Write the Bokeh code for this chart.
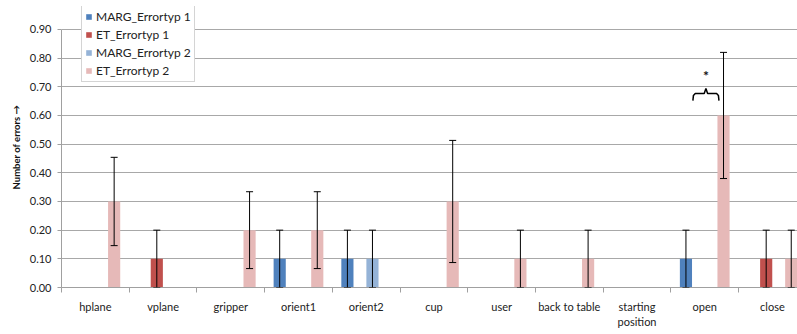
from bokeh.plotting import figure
from bokeh.models import (Range1d, FixedTicker, ColumnDataSource, Whisker, TeeHead,
                          Label, Legend, LegendItem, NumeralTickFormatter)
from bokeh.embed import file_html
from bokeh.resources import INLINE

# Mean number of errors per button, by interface and error type
categories = ["hplane", "vplane", "gripper", "orient1", "orient2", "cup", "user",
              "back to table", "starting position", "open", "close"]
marg_err1 = [0, 0, 0, 0.10, 0.10, 0, 0, 0, 0, 0.10, 0]
et_err1 = [0, 0.10, 0, 0, 0, 0, 0, 0, 0, 0, 0.10]
marg_err2 = [0, 0, 0, 0, 0.10, 0, 0, 0, 0, 0, 0]
et_err2 = [0.30, 0, 0.20, 0.20, 0, 0.30, 0.10, 0.10, 0, 0.60, 0.10]

# Standard deviations (error bars)
marg_sd1 = [0, 0, 0, 0.10, 0.10, 0, 0, 0, 0, 0.10, 0]
et_sd1 = [0, 0.10, 0, 0, 0, 0, 0, 0, 0, 0, 0.10]
marg_sd2 = [0, 0, 0, 0, 0.10, 0, 0, 0, 0, 0, 0]
et_sd2 = [0.154, 0, 0.134, 0.134, 0, 0.213, 0.10, 0.10, 0, 0.22, 0.10]

series_names = ["MARG_Errortyp 1", "ET_Errortyp 1", "MARG_Errortyp 2", "ET_Errortyp 2"]
series_values = [marg_err1, et_err1, marg_err2, et_err2]
series_sd = [marg_sd1, et_sd1, marg_sd2, et_sd2]
colors = ["#4F81BD", "#C0504D", "#95B3D7", "#E6B9B8"]
y_ticks = [0.0, 0.1, 0.2, 0.3, 0.4, 0.5, 0.6, 0.7, 0.8, 0.9]

FONT = "Lato"
n = len(categories)
slot = 0.185          # width of one bar slot in category units
offsets = [0.5 + (k - 1.5) * slot for k in range(4)]

p = figure(width=797, height=334, output_backend="svg", toolbar_location=None,
           x_range=Range1d(0, 10.87), y_range=Range1d(0, 0.980),
           min_border_left=61, min_border_right=0, min_border_top=6,
           min_border_bottom=47)
p.outline_line_color = None
p.background_fill_color = "white"

# Grid
p.xgrid.grid_line_color = None
p.ygrid.ticker = FixedTicker(ticks=y_ticks)
p.ygrid.grid_line_color = "#a8a8a8"
p.ygrid.grid_line_width = 1

# Y axis
p.yaxis.ticker = FixedTicker(ticks=y_ticks)
p.yaxis.bounds = (0, 0.9)
p.yaxis.formatter = NumeralTickFormatter(format="0.00")
p.yaxis.axis_line_color = "#a0a0a0"
p.yaxis.major_tick_line_color = "#a0a0a0"
p.yaxis.major_tick_out = 4
p.yaxis.major_tick_in = 0
p.yaxis.minor_tick_line_color = None
p.yaxis.major_label_text_font = FONT
p.yaxis.major_label_text_font_size = "11px"
p.yaxis.major_label_text_color = "#222222"
p.yaxis.major_label_standoff = 6
p.yaxis.axis_label = "Number of errors \u2192"
p.yaxis.axis_label_text_font = FONT
p.yaxis.axis_label_text_font_size = "9.5px"
p.yaxis.axis_label_text_font_style = "bold"
p.yaxis.axis_label_text_color = "#111111"
p.yaxis.axis_label_standoff = 5

# X axis: labels at category centres, tick marks at category boundaries
centers = [i + 0.5 for i in range(n)]
p.xaxis.ticker = FixedTicker(ticks=centers, minor_ticks=list(range(n + 1)))
p.xaxis.major_label_overrides = {c: lab.replace("starting position", "starting\nposition")
                                 for c, lab in zip(centers, categories)}
p.xaxis.major_tick_out = 0
p.xaxis.major_tick_in = 0
p.xaxis.minor_tick_out = 5
p.xaxis.minor_tick_in = 0
p.xaxis.minor_tick_line_color = "#a0a0a0"
p.xaxis.axis_line_color = "#a0a0a0"
p.xaxis.major_label_text_font = FONT
p.xaxis.major_label_text_font_size = "11px"
p.xaxis.major_label_text_color = "#222222"
p.xaxis.major_label_standoff = 7

# Bars and error bars
items = []
for k, (name, vals, sds, col) in enumerate(zip(series_names, series_values, series_sd, colors)):
    xs = [i + offsets[k] for i in range(n)]
    r = p.vbar(x=xs, top=vals, width=slot * 0.97, bottom=0, fill_color=col, line_color=None)
    items.append(LegendItem(label=name, renderers=[r]))
    keep = [i for i in range(n) if vals[i] > 0]
    src = ColumnDataSource(dict(
        x=[xs[i] for i in keep],
        upper=[vals[i] + sds[i] for i in keep],
        lower=[vals[i] - sds[i] for i in keep]))
    w = Whisker(source=src, base="x", upper="upper", lower="lower", dimension="height",
                line_color="black", line_width=1, level="overlay",
                upper_head=TeeHead(size=7, line_color="black", line_width=1),
                lower_head=TeeHead(size=7, line_color="black", line_width=1))
    p.add_layout(w)

# Significance brace over "open"
oi = categories.index("open")
bx0, bx1 = oi + 0.325, oi + 0.71
bm = (bx0 + bx1) / 2
by = 0.677
p.line(x=[bx0, bx0 + 0.008, bx0 + 0.035, bm - 0.025, bm,
          bm + 0.025, bx1 - 0.035, bx1 - 0.008, bx1],
       y=[by - 0.025, by - 0.007, by, by, by + 0.017,
          by, by, by - 0.007, by - 0.025],
       line_color="black", line_width=1.5)
p.add_layout(Label(x=bm, y=0.738, text="*", text_font=FONT, text_font_size="14px",
                   text_font_style="bold", text_align="center", text_baseline="middle",
                   text_color="#111111"))

# X axis title
p.add_layout(Label(x=5.3, y=-0.135, text="Buttons \u2192", text_font=FONT,
                   text_font_size="10px", text_font_style="bold", text_align="center",
                   text_baseline="middle", text_color="#111111"))

legend = Legend(items=items, location=(20, 205), orientation="vertical",
                label_text_font=FONT, label_text_font_size="12px",
                label_text_color="#222222", glyph_width=7, glyph_height=7,
                label_standoff=4, label_height=13, spacing=3, padding=3,
                border_line_color="#aaaaaa", border_line_width=1,
                background_fill_alpha=1.0)
p.add_layout(legend)

open("out.html", "w").write(file_html(p, INLINE))
